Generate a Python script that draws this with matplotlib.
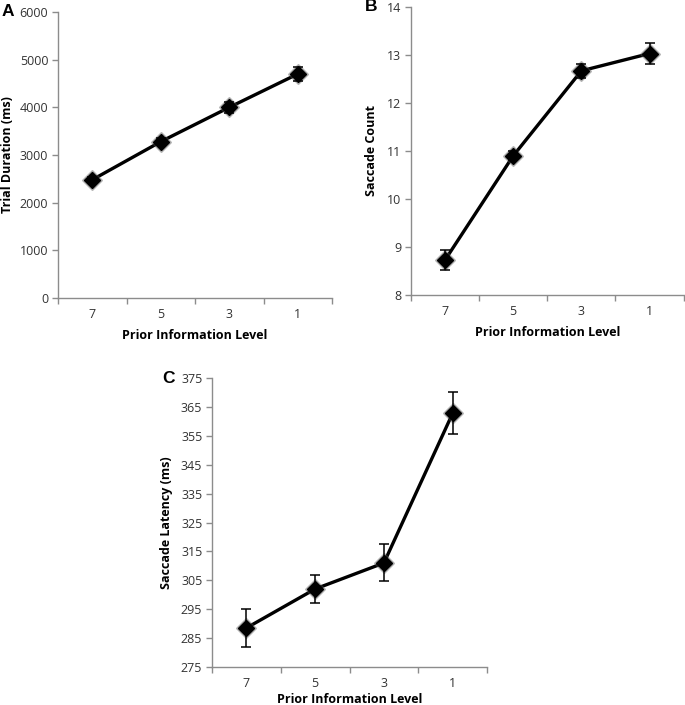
import matplotlib
matplotlib.use("Agg")
import matplotlib.pyplot as plt
import numpy as np

plt.rcParams['font.family'] = ['Open Sans', 'DejaVu Sans']

categories = ["7", "5", "3", "1"]
xlabel = "Prior Information Level"

dur_vals = [2480, 3280, 4000, 4700]
dur_err = [60, 70, 110, 140]
dur_ticks = [0, 1000, 2000, 3000, 4000, 5000, 6000]

sac_vals = [8.73, 10.90, 12.67, 13.03]
sac_err = [0.20, 0.09, 0.15, 0.22]
sac_ticks = [8, 9, 10, 11, 12, 13, 14]

lat_vals = [288.5, 302.0, 311.0, 362.8]
lat_err = [6.6, 5.0, 6.4, 7.2]
lat_ticks = [275, 285, 295, 305, 315, 325, 335, 345, 355, 365, 375]

fig = plt.figure(figsize=(6.85, 7.05), dpi=100)

specs = [
    ([0.0847, 0.5773, 0.400, 0.4057], dur_vals, dur_err, dur_ticks, "Trial Duration (ms)", "A", -0.205, -0.16, 6),
    ([0.600, 0.5816, 0.398, 0.4085], sac_vals, sac_err, sac_ticks, "Saccade Count", "B", -0.17, -0.12, 6),
    ([0.3095, 0.0539, 0.4015, 0.4099], lat_vals, lat_err, lat_ticks, "Saccade Latency (ms)", "C", -0.18, -0.142, 2.5),
]

grey = "#8c8c8c"
for rect, vals, errs, ticks, ylabel, letter, lx, yl, xlp in specs:
    ax = fig.add_axes(rect)
    x = np.arange(len(categories))
    ax.plot(x, vals, color="black", lw=2.4, zorder=2)
    ax.plot(x, vals, linestyle="none", marker="D", markersize=10.5,
            color="#555555", alpha=0.35, zorder=3)
    ax.errorbar(x, vals, yerr=errs, fmt="none", ecolor="black",
                elinewidth=1.1, capsize=3.5, capthick=1.1, zorder=4)
    ax.plot(x, vals, linestyle="none", marker="D", markersize=8,
            color="black", zorder=5)
    ax.set_xlim(-0.5, len(categories) - 0.5)
    ax.set_ylim(ticks[0], ticks[-1])
    ax.set_yticks(ticks)
    ax.set_yticklabels([str(t) for t in ticks])
    ax.set_xticks(np.arange(len(categories) + 1) - 0.5)
    ax.set_xticklabels([])
    ax.set_xticks(x, minor=True)
    ax.set_xticklabels(categories, minor=True)
    ax.tick_params(axis="x", which="major", direction="out", length=4,
                   color=grey, width=1)
    ax.tick_params(axis="x", which="minor", length=0, pad=7,
                   labelsize=9, labelcolor="#333333")
    ax.tick_params(axis="y", direction="out", length=4, color=grey,
                   width=1, labelsize=9, labelcolor="#333333", pad=3)
    for s in ["top", "right"]:
        ax.spines[s].set_visible(False)
    for s in ["left", "bottom"]:
        ax.spines[s].set_color(grey)
        ax.spines[s].set_linewidth(1)
    ax.set_xlabel(xlabel, fontsize=9, fontweight="bold", labelpad=xlp)
    ax.set_ylabel(ylabel, fontsize=9, fontweight="bold")
    ax.yaxis.set_label_coords(yl, 0.5)
    ax.text(lx, 1.0, letter, transform=ax.transAxes,
            fontsize=12.5, fontweight="bold", ha="left", va="center",
            family=["Liberation Sans", "DejaVu Sans"])

fig.savefig("out.png", dpi=100)
